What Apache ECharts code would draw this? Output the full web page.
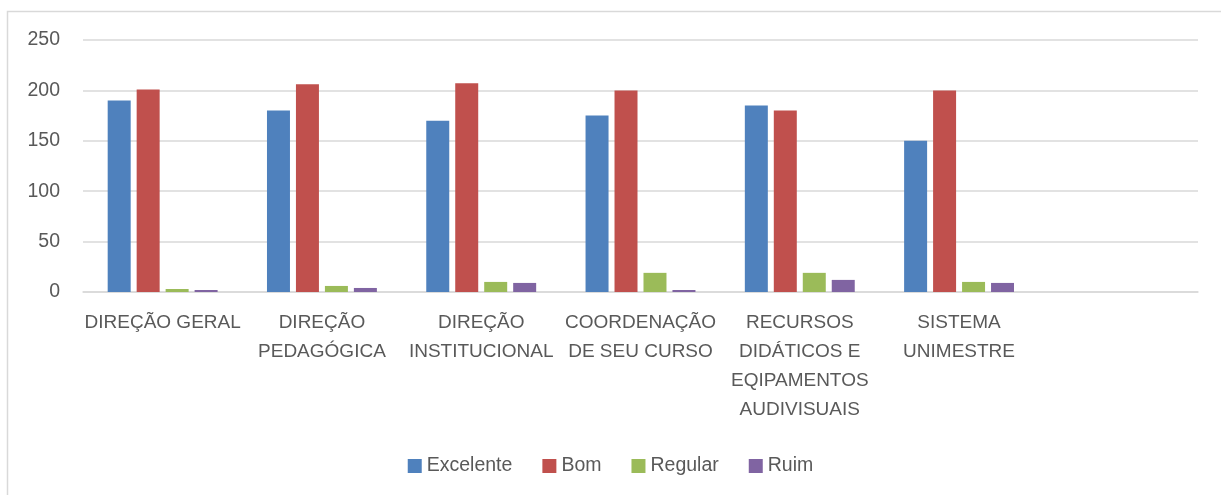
<!DOCTYPE html>
<html>
<head>
<meta charset="utf-8">
<script src="https://cdn.jsdelivr.net/npm/echarts@6/dist/echarts.min.js"></script>
<style>
  html, body { margin: 0; padding: 0; background: #fff; }
  #chart { width: 1221px; height: 495px; }
</style>
</head>
<body>
<div id="chart"></div>
<script>
const categories = [
  'DIREÇÃO GERAL',
  'DIREÇÃO\nPEDAGÓGICA',
  'DIREÇÃO\nINSTITUCIONAL',
  'COORDENAÇÃO\nDE SEU CURSO',
  'RECURSOS\nDIDÁTICOS E\nEQIPAMENTOS\nAUDIVISUAIS',
  'SISTEMA\nUNIMESTRE',
  ''
]
const excelente = [190, 180, 170, 175, 185, 150, null]
const bom = [201, 206, 207, 200, 180, 200, null]
const regular = [3, 6, 10, 19, 19, 10, null]
const ruim = [2, 4, 9, 2, 12, 9, null]

const font = '"Liberation Sans", sans-serif'
const textColor = '#595959'

const chart = echarts.init(document.getElementById('chart'))

function bar(name, data, color) {
  return {
    name,
    type: 'bar',
    data,
    barGap: '26%',
    barCategoryGap: '31%',
    itemStyle: { color },
    animation: false
  }
}

chart.setOption({
  animation: false,
  graphic: [{
    type: 'rect',
    shape: { x: 7.5, y: 11.5, width: 1240, height: 500 },
    style: { fill: 'none', stroke: '#d9d9d9', lineWidth: 1.5 },
    silent: true
  }],
  grid: { left: 83, right: 23, top: 40, bottom: 203 },
  legend: {
    bottom: 14,
    left: 'center',
    itemWidth: 14,
    itemHeight: 14,
    itemGap: 30,
    icon: 'rect',
    textStyle: { fontFamily: font, fontSize: 19.5, color: textColor },
    data: ['Excelente', 'Bom', 'Regular', 'Ruim']
  },
  xAxis: {
    type: 'category',
    data: categories,
    axisLine: { lineStyle: { color: '#d9d9d9', width: 1.5 } },
    axisTick: { show: false },
    axisLabel: {
      interval: 0,
      margin: 16,
      fontFamily: font,
      fontSize: 19,
      lineHeight: 29,
      color: textColor
    }
  },
  yAxis: {
    type: 'value',
    min: 0,
    max: 250,
    interval: 50,
    axisLine: { show: false },
    axisTick: { show: false },
    splitLine: { lineStyle: { color: '#d9d9d9', width: 1.5 } },
    axisLabel: { margin: 23, fontFamily: font, fontSize: 19.5, color: textColor }
  },
  series: [
    bar('Excelente', excelente, '#4F81BD'),
    bar('Bom', bom, '#C0504D'),
    bar('Regular', regular, '#9BBB59'),
    bar('Ruim', ruim, '#8064A2')
  ]
})
</script>
</body>
</html>
